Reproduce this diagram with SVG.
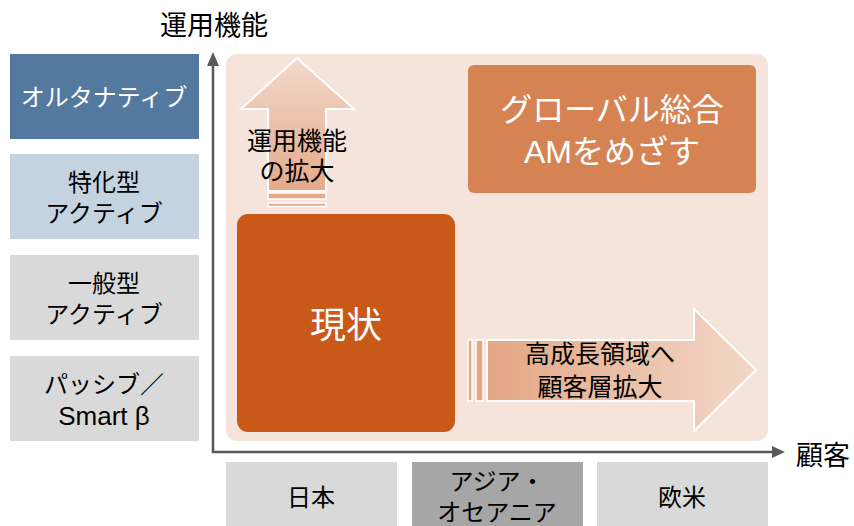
<svg xmlns="http://www.w3.org/2000/svg" width="854" height="526" viewBox="0 0 854 526">
<style>
text{font-family:"Liberation Sans","Noto Sans CJK JP",sans-serif;text-anchor:middle;}
.lbl{font-size:24px;fill:#000;}
.arl{font-size:25px;fill:#000;}
.wl{font-size:24px;fill:#fff;}
.big{font-size:32px;fill:#fff;}
.ax{font-size:27px;fill:#000;}
.axis{stroke:#595959;stroke-width:2.5;fill:none;}
.head{fill:#595959;}
</style>
<defs>
<linearGradient id="gUp" x1="0" y1="0" x2="0" y2="1">
<stop offset="0" stop-color="#F3D9CB"/><stop offset="1" stop-color="#E4AA89"/>
</linearGradient>
<linearGradient id="gR" x1="0" y1="0" x2="1" y2="0">
<stop offset="0" stop-color="#E3A785"/><stop offset="1" stop-color="#F3D7C8"/>
</linearGradient>
</defs>
<rect id="panel" x="226" y="54" width="542" height="387" rx="11" fill="#F5E4DC"/>
<g id="connectors">
<path class="axis" d="M213,64 L213,452 L774,452"/>
<polygon class="head" points="213,52 219,66 207,66"/>
<polygon class="head" points="785,452 772,458 772,446"/>
</g>
<text class="ax" x="214" y="35">運用機能</text>
<text class="ax" x="823" y="465">顧客</text>
<g id="alt"><rect x="10" y="54" width="189" height="85" fill="#54799F"/><text class="wl" x="104" y="106">オルタナティブ</text></g>
<g id="tokka"><rect x="10" y="154" width="189" height="85" fill="#C5D3E0"/><text class="lbl" x="104" y="191">特化型</text><text class="lbl" x="104" y="222">アクティブ</text></g>
<g id="ippan"><rect x="10" y="255" width="189" height="85" fill="#D9D9D9"/><text class="lbl" x="104" y="292">一般型</text><text class="lbl" x="104" y="323">アクティブ</text></g>
<g id="passive"><rect x="10" y="356" width="189" height="85" fill="#D9D9D9"/><text class="lbl" x="104" y="393">パッシブ／</text><text class="lbl" x="104" y="425" style="font-size:26px">Smart β</text></g>
<g id="japan"><rect x="226" y="462" width="171" height="64" fill="#D9D9D9"/><text class="lbl" x="311" y="506">日本</text></g>
<g id="asia"><rect x="412" y="462" width="171" height="64" fill="#A6A6A6"/><text class="lbl" x="497" y="490">アジア・</text><text class="lbl" x="497" y="521">オセアニア</text></g>
<g id="west"><rect x="597" y="462" width="171" height="64" fill="#D9D9D9"/><text class="lbl" x="682" y="506">欧米</text></g>
<g id="uparrow">
<path d="M297,58 L354,109 L326,109 L326,191 L268,191 L268,109 L241,109 Z" fill="url(#gUp)" stroke="#fff" stroke-width="2"/>
<rect x="268" y="193" width="58" height="6" fill="#E4AA89" stroke="#fff" stroke-width="1.5"/>
<rect x="268" y="203" width="58" height="3.5" fill="#E4AA89" stroke="#fff" stroke-width="1.5"/>
<text class="arl" x="297" y="150">運用機能</text>
<text class="arl" x="297" y="180">の拡大</text>
</g>
<g id="genjo"><rect x="237" y="214" width="218" height="218" rx="11" fill="#C95918"/><text style="font-size:36px;fill:#fff" x="346" y="338">現状</text></g>
<g id="global"><rect x="468" y="65" width="288" height="128" rx="6" fill="#D68354"/><text class="big" x="612" y="121">グローバル総合</text><text class="big" x="612" y="163">AMをめざす</text></g>
<g id="rightarrow">
<path d="M487,340 L694,340 L694,309 L756,370 L694,431 L694,401 L487,401 Z" fill="url(#gR)" stroke="#fff" stroke-width="2"/>
<rect x="468" y="340" width="4" height="61" fill="#E3A785" stroke="#fff" stroke-width="1.5"/>
<rect x="476" y="340" width="7" height="61" fill="#E3A785" stroke="#fff" stroke-width="1.5"/>
<text class="arl" x="600" y="363">高成長領域へ</text>
<text class="arl" x="600" y="396">顧客層拡大</text>
</g>
</svg>
